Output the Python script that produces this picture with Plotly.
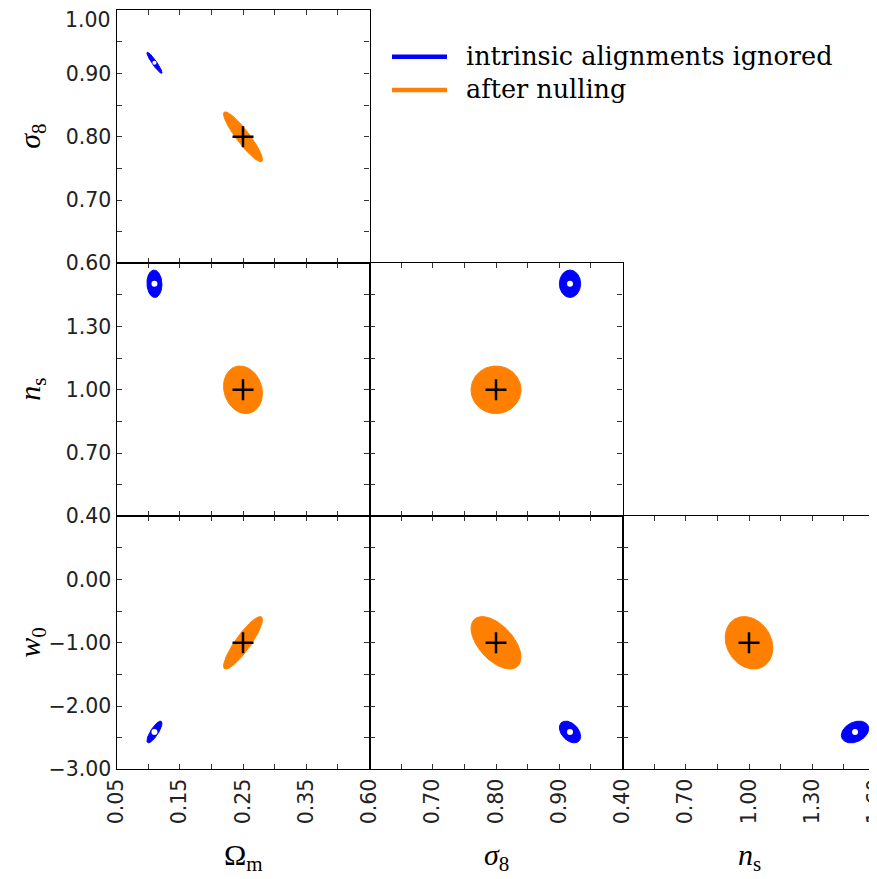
import numpy as np
import plotly.graph_objects as go

# ---------------- data ----------------
param_names = ["Omega_m", "sigma_8", "n_s", "w_0"]
fiducial = [0.25, 0.80, 1.00, -1.00]              # centre of "after nulling"
nulled_half = [0.0308, 0.0395, 0.113, 0.415]      # half-extent of contour
biased_centre = [0.110, 0.917, 1.503, -2.41]      # "intrinsic alignments ignored"
biased_half = [0.0119, 0.0168, 0.065, 0.172]

# correlation per pair (i, j): (x-param, y-param)
pairs = [(0, 1), (0, 2), (1, 2), (0, 3), (1, 3), (2, 3)]
nulled_corr = [-0.91, -0.15, 0.0, 0.88, -0.55, -0.20]
biased_corr = [-0.93, -0.05, 0.0, 0.80, -0.40, 0.30]

axis_range = {0: [0.05, 0.45], 1: [0.60, 1.00], 2: [0.40, 1.60], 3: [-3.0, 1.0]}
axis_step = {0: 0.05, 1: 0.05, 2: 0.15, 3: 0.5}
axis_title = {0: "Ω<sub>m</sub>", 1: "<i>σ</i><sub>8</sub>",
              2: "<i>n</i><sub>s</sub>", 3: "<i>w</i><sub>0</sub>"}

legend_labels = ["intrinsic alignments ignored", "after nulling"]
legend_colors = ["#0000FF", "#FF8000"]
BLUE, ORANGE = legend_colors

# ---------------- layout geometry (pixels) ----------------
W, H = 877, 879
OFF = 8.0                       # page body margin
left, top, size = 116.5 - OFF, 10.3 - OFF, 253.0
TICKFONT = dict(family="DejaVu Sans", size=20.5, color="#222")


def px_x(p):
    return (p - OFF) / W


def px_y(p):
    return 1 - (p - OFF) / H


def ellipse(cx, cy, hx, hy, r, n=200):
    t = np.linspace(0, 2 * np.pi, n)
    x = cx + hx * np.cos(t)
    y = cy + hy * (r * np.cos(t) + np.sqrt(1 - r * r) * np.sin(t))
    return x, y


def fmt(v):
    return f"{v:.2f}".replace("-", "−")


def major_ticks(p, show_last):
    lo, hi = axis_range[p]
    st = 2 * axis_step[p]
    n = int(round((hi - lo) / st))
    last = n + 1 if show_last else n
    vals = [round(lo + k * st, 6) for k in range(last)]
    return vals, [fmt(v) for v in vals]


fig = go.Figure()

panel_pos = {(0, 1): (0, 0), (0, 2): (1, 0), (1, 2): (1, 1),
             (0, 3): (2, 0), (1, 3): (2, 1), (2, 3): (2, 2)}

for k, (i, j) in enumerate(pairs):
    row, col = panel_pos[(i, j)]
    ax = "" if k == 0 else str(k + 1)
    xref, yref = "x" + ax, "y" + ax

    bx, by = ellipse(biased_centre[i], biased_centre[j], biased_half[i],
                     biased_half[j], biased_corr[k])
    fig.add_trace(go.Scatter(x=bx, y=by, mode="lines", fill="toself",
                             fillcolor=BLUE, line=dict(color=BLUE, width=1),
                             xaxis=xref, yaxis=yref, showlegend=False,
                             hoverinfo="skip"))
    fig.add_trace(go.Scatter(x=[biased_centre[i]], y=[biased_centre[j]],
                             mode="markers",
                             marker=dict(color="white", size=4 if k == 0 else 6),
                             xaxis=xref, yaxis=yref, showlegend=False,
                             hoverinfo="skip"))
    ox, oy = ellipse(fiducial[i], fiducial[j], nulled_half[i], nulled_half[j],
                     nulled_corr[k])
    fig.add_trace(go.Scatter(x=ox, y=oy, mode="lines", fill="toself",
                             fillcolor=ORANGE, line=dict(color=ORANGE, width=1),
                             xaxis=xref, yaxis=yref, showlegend=False,
                             hoverinfo="skip"))
    fig.add_trace(go.Scatter(x=[fiducial[i]], y=[fiducial[j]], mode="markers",
                             marker=dict(symbol="cross-thin", size=15,
                                         line=dict(color="black", width=2.5)),
                             xaxis=xref, yaxis=yref, showlegend=False,
                             hoverinfo="skip"))

    x0 = (left + col * size) / W
    x1 = (left + (col + 1) * size) / W
    y1 = 1 - (top + row * size) / H
    y0 = 1 - (top + (row + 1) * size) / H

    xv, xt = major_ticks(i, show_last=(col == 2))
    yv, yt = major_ticks(j, show_last=False)   # top-left top label added below
    common = dict(showline=True, linecolor="black", linewidth=1.2, mirror="allticks",
                  ticks="inside", ticklen=5, tickwidth=1.3, tickcolor="#333",
                  showgrid=False, zeroline=False, automargin=False,
                  ticklabeloverflow="allow", tickfont=TICKFONT, tickmode="array")
    fig.layout["xaxis" + ax] = dict(
        common, domain=[x0, x1], range=axis_range[i], anchor=yref,
        tickvals=xv, ticktext=xt, showticklabels=(row == 2), tickangle=-90,
        minor=dict(ticks="inside", ticklen=5, tickwidth=1.3, tickcolor="#333",
                   tick0=axis_range[i][0], dtick=axis_step[i], showgrid=False))
    fig.layout["yaxis" + ax] = dict(
        common, domain=[y0, y1], range=axis_range[j], anchor=xref,
        tickvals=yv, ticktext=yt, showticklabels=(col == 0),
        minor=dict(ticks="inside", ticklen=5, tickwidth=1.3, tickcolor="#333",
                   tick0=axis_range[j][0], dtick=axis_step[j], showgrid=False))

# top tick label of sigma_8 axis (nudged down to stay on the page)
fig.add_annotation(text=fmt(axis_range[1][1]), xref="paper", yref="paper",
                   x=px_x(112.5), y=px_y(20.5), xanchor="right", yanchor="middle",
                   showarrow=False, font=TICKFONT)

for c, p in enumerate([0, 1, 2]):
    fig.add_annotation(text=axis_title[p], xref="paper", yref="paper",
                       x=(left + (c + 0.5) * size) / W, y=px_y(857),
                       xanchor="center", yanchor="middle", showarrow=False,
                       font=dict(family="Liberation Serif", size=30, color="black"))
for r, p in enumerate([1, 2, 3]):
    fig.add_annotation(text=axis_title[p], xref="paper", yref="paper",
                       x=px_x(32), y=1 - (top + (r + 0.5) * size) / H,
                       xanchor="center", yanchor="middle",
                       showarrow=False, textangle=-90,
                       font=dict(family="Liberation Serif", size=30, color="black"))

# legend (swatch lines + labels)
legend_rows = [56.7, 90.0]
for lab, colr, yy in zip(legend_labels, legend_colors, legend_rows):
    fig.add_shape(type="line", xref="paper", yref="paper",
                  x0=px_x(392), x1=px_x(447), y0=px_y(yy), y1=px_y(yy),
                  line=dict(color=colr, width=4.5))
    fig.add_annotation(text=lab, xref="paper", yref="paper",
                       x=px_x(464), y=px_y(yy - 1), xanchor="left", yanchor="middle",
                       showarrow=False,
                       font=dict(family="DejaVu Serif", size=25.5, color="black"))

fig.update_layout(
    width=W, height=H, margin=dict(l=0, r=0, t=0, b=0, autoexpand=False),
    paper_bgcolor="white", plot_bgcolor="white",
    showlegend=False,
)

fig.write_html("out.html")
